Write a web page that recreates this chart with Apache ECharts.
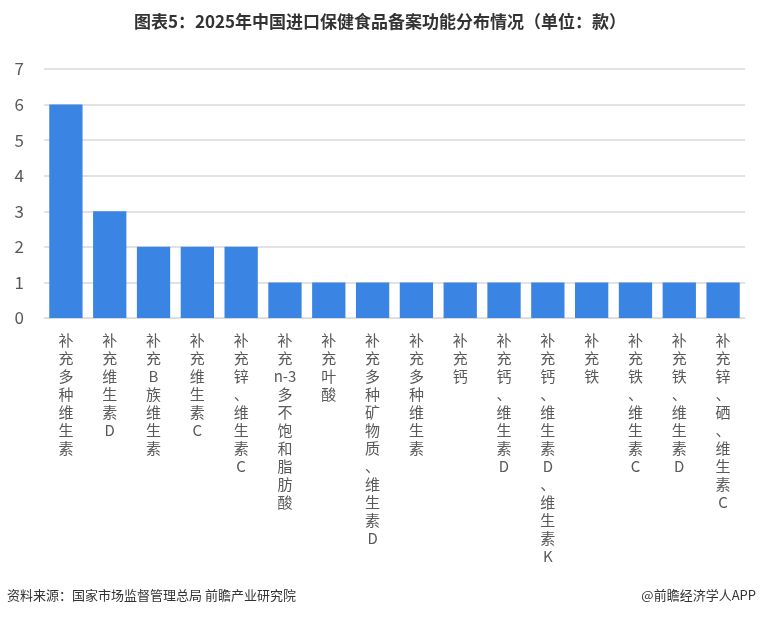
<!DOCTYPE html>
<html>
<head>
<meta charset="utf-8">
<script src="https://cdn.jsdelivr.net/npm/echarts@6/dist/echarts.min.js"></script>
<style>
  html, body { margin: 0; padding: 0; background: #fff; }
  #chart { width: 760px; height: 619px; }
</style>
</head>
<body>
<div id="chart"></div>
<script>
var categories = [
  '补充多种维生素', '补充维生素D', '补充B族维生素', '补充维生素C',
  '补充锌、维生素C', '补充n-3多不饱和脂肪酸', '补充叶酸', '补充多种矿物质、维生素D',
  '补充多种维生素', '补充钙', '补充钙、维生素D', '补充钙、维生素D、维生素K',
  '补充铁', '补充铁、维生素C', '补充铁、维生素D', '补充锌、硒、维生素C'
];
var counts = [6, 3, 2, 2, 2, 1, 1, 1, 1, 1, 1, 1, 1, 1, 1, 1];

var FONT = '"Noto Sans CJK SC", "Microsoft YaHei", sans-serif';

// vertical label: one CJK char per line, runs of latin chars kept together
function verticalText(value) {
  var parts = value.match(/[A-Za-z0-9\-]+|[^A-Za-z0-9\-]/g) || [];
  return parts.join('\n');
}

var myChart = echarts.init(document.getElementById('chart'));
var option = {
  backgroundColor: '#FFFFFF',
  animation: false,
  title: {
    text: '图表5：2025年中国进口保健食品备案功能分布情况（单位：款）',
    left: 'center',
    top: 8,
    textStyle: {
      fontFamily: FONT,
      fontSize: 17,
      fontWeight: 'bold',
      color: '#333333'
    }
  },
  graphic: [
    {
      type: 'text',
      left: 7,
      top: 589,
      style: {
        text: '资料来源：国家市场监督管理总局 前瞻产业研究院',
        fontFamily: FONT,
        fontSize: 13,
        fill: '#333333'
      }
    },
    {
      type: 'text',
      right: 4,
      top: 589,
      style: {
        text: '@前瞻经济学人APP',
        fontFamily: FONT,
        fontSize: 13,
        fill: '#333333'
      }
    }
  ],
  grid: {
    left: 44,
    right: 15,
    top: 69,
    bottom: 301
  },
  xAxis: {
    type: 'category',
    data: categories,
    axisTick: { show: false },
    axisLine: { lineStyle: { color: '#d9d9d9', width: 1 } },
    axisLabel: {
      interval: 0,
      margin: 13,
      fontFamily: FONT,
      fontSize: 15,
      lineHeight: 18,
      color: '#595959',
      verticalAlign: 'top',
      formatter: verticalText
    }
  },
  yAxis: {
    type: 'value',
    min: 0,
    max: 7,
    interval: 1,
    axisLine: { show: false },
    axisTick: { show: false },
    axisLabel: {
      margin: 20,
      fontFamily: FONT,
      fontSize: 17,
      color: '#595959'
    },
    splitLine: { lineStyle: { color: '#d9d9d9', width: 1.5 } }
  },
  series: [
    {
      type: 'bar',
      data: counts,
      barWidth: '76%',
      itemStyle: { color: '#3a84e4' }
    }
  ]
};
myChart.setOption(option);
</script>
</body>
</html>
